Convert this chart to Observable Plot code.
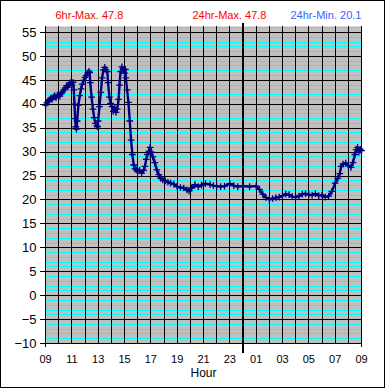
<!DOCTYPE html>
<html><head><meta charset="utf-8">
<script src="https://cdn.jsdelivr.net/npm/d3@7"></script>
<script src="https://cdn.jsdelivr.net/npm/@observablehq/plot@0.6"></script>
<style>
html,body{margin:0;padding:0;background:#fff;}
#wrap{position:relative;width:385px;height:388px;overflow:hidden;}
#border{position:absolute;left:0;top:0;width:385px;height:388px;box-sizing:border-box;border:1px solid #000;pointer-events:none;}
</style></head><body>
<div id="wrap"><div id="border"></div></div>
<script>
// hours since 09:00
const hours = [0.00,0.10,0.20,0.30,0.40,0.50,0.60,0.70,0.80,0.90,1.00,1.10,1.20,1.30,1.40,1.50,1.60,1.70,1.80,1.90,2.00,2.10,2.15,2.20,2.25,2.30,2.35,2.40,2.50,2.60,2.70,2.80,2.90,3.00,3.10,3.20,3.30,3.35,3.40,3.50,3.60,3.70,3.80,3.90,3.95,4.00,4.10,4.20,4.30,4.40,4.50,4.60,4.70,4.75,4.85,4.95,5.05,5.15,5.25,5.35,5.45,5.55,5.62,5.70,5.80,5.90,6.00,6.07,6.10,6.20,6.30,6.40,6.50,6.60,6.70,6.80,6.90,7.00,7.15,7.30,7.45,7.55,7.65,7.75,7.85,7.95,8.05,8.15,8.30,8.45,8.60,8.75,8.90,9.10,9.30,9.50,9.75,10.00,10.25,10.50,10.75,10.90,11.10,11.35,11.60,11.85,12.15,12.50,12.75,13.00,13.30,13.60,14.00,14.30,14.60,15.00,15.50,16.00,16.25,16.50,16.75,17.00,17.25,17.50,17.75,18.00,18.25,18.50,18.75,19.00,19.25,19.50,19.75,20.00,20.25,20.50,20.75,21.00,21.25,21.50,21.75,22.00,22.20,22.35,22.45,22.60,22.80,23.00,23.20,23.35,23.50,23.60,23.70,23.80,23.90,24.00];
const temps = [39.8,40.3,40.6,40.9,41.3,41.0,41.5,41.8,41.4,41.9,42.0,41.7,42.3,42.6,43.0,43.4,43.9,43.6,44.2,44.5,44.0,44.6,43.0,40.0,37.0,35.3,34.8,36.5,39.8,41.8,43.2,44.2,45.0,45.6,46.0,46.5,46.9,46.6,44.5,41.5,39.0,37.2,36.0,35.5,35.3,36.5,39.5,42.5,45.5,47.2,47.7,47.2,46.8,44.5,41.5,40.2,39.5,38.5,39.3,38.3,39.0,41.0,44.0,46.8,47.8,47.2,46.5,47.3,45.5,43.0,40.4,36.5,32.5,29.5,27.3,26.5,26.3,26.0,26.2,25.6,26.2,27.0,28.5,29.5,30.2,31.0,30.0,29.0,27.8,26.3,25.3,24.5,24.2,24.0,23.7,23.5,23.3,22.8,22.6,22.5,22.1,21.9,22.5,23.2,22.8,23.1,23.4,23.2,23.0,22.9,22.8,22.9,23.4,23.0,22.8,22.9,22.8,22.9,22.2,21.2,20.5,20.1,20.3,20.5,20.6,20.9,21.2,21.1,20.7,20.6,20.8,21.2,21.3,21.1,21.0,21.3,20.9,21.0,20.6,20.8,21.8,23.5,24.5,25.5,27.0,27.5,27.7,27.2,26.8,27.8,29.5,30.5,31.0,30.0,30.6,30.3];

const yTickValues = [-10,-5,0,5,10,15,20,25,30,35,40,45,50,55];
const xTickHours = [0,2,4,6,8,10,12,14,16,18,20,22,24];
const xTickLabels = ["09","11","13","15","17","19","21","23","01","03","05","07","09"];
const headerLabels = ["6hr-Max. 47.8","24hr-Max. 47.8","24hr-Min. 20.1"];
const xTitle = "Hour";
const midnightHour = 15;

const data = hours.map((h, i) => ({h, t: temps[i]}));
const hourLines = d3.range(0, 25);
const minorLines = d3.range(-10, 57, 1).filter(v => v % 5 !== 0);

const chart = Plot.plot({
  width: 385, height: 388,
  marginTop: 26, marginBottom: 45, marginLeft: 45, marginRight: 24,
  style: {fontFamily: "'Liberation Sans', Arial, sans-serif", background: "transparent", overflow: "visible", color: "black"},
  x: {domain: [0, 24]},
  y: {domain: [-10, 56.25]},
  marks: [
    Plot.frame({fill: "#c0c0c0"}),
    Plot.ruleY(minorLines, {stroke: "#00ffff", strokeWidth: 1, shapeRendering: "crispEdges"}),
    Plot.ruleY(yTickValues, {stroke: "black", strokeWidth: 1, shapeRendering: "crispEdges"}),
    Plot.ruleX(hourLines, {stroke: "black", strokeWidth: 1, shapeRendering: "crispEdges"}),
    Plot.ruleX([0, 24], {stroke: "black", strokeWidth: 1, insetBottom: -4, shapeRendering: "crispEdges"}),
    Plot.ruleX([midnightHour], {stroke: "black", strokeWidth: 2, insetTop: -3, insetBottom: -10, shapeRendering: "crispEdges"}),
    Plot.line(data, {x: "h", y: "t", stroke: "#000080", strokeWidth: 2.4}),
    Plot.dot(data, {x: "h", y: "t", symbol: "plus", r: 2.3, stroke: "#000080", strokeWidth: 1.3}),
    Plot.axisY({ticks: yTickValues, tickSize: 5, tickPadding: 4, fontSize: 13, label: null, shapeRendering: "crispEdges"}),
    Plot.axisX({ticks: xTickHours, tickFormat: d => xTickLabels[xTickHours.indexOf(d)], tickSize: 0, tickPadding: 12, fontSize: 11, label: null}),
    Plot.text([xTitle], {text: d => d, frameAnchor: "bottom", lineAnchor: "middle", dy: 30, fontSize: 12}),
    Plot.text([headerLabels[0]], {text: d => d, frameAnchor: "top-left", textAnchor: "start", lineAnchor: "middle", dx: 10, dy: -11, fontSize: 11, fill: "#ff0000"}),
    Plot.text([headerLabels[1]], {text: d => d, frameAnchor: "top-left", textAnchor: "start", lineAnchor: "middle", dx: 147, dy: -11, fontSize: 11, fill: "#ff0000"}),
    Plot.text([headerLabels[2]], {text: d => d, frameAnchor: "top-left", textAnchor: "start", lineAnchor: "middle", dx: 245, dy: -11, fontSize: 11, fill: "#3366ff"})
  ]
});
document.getElementById("wrap").insertBefore(chart, document.getElementById("border"));
</script>
</body></html>
